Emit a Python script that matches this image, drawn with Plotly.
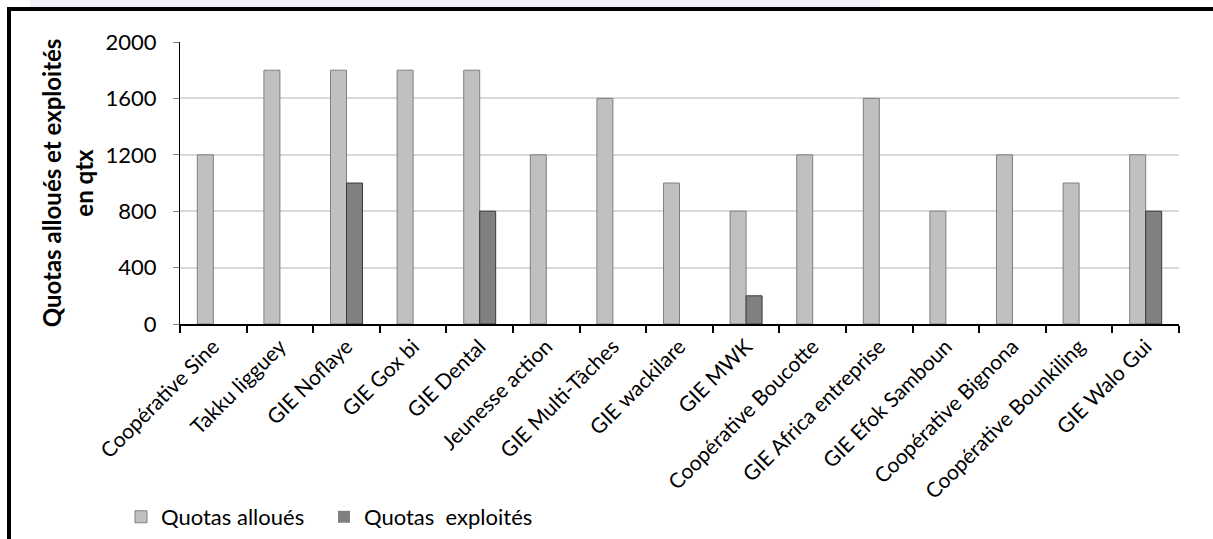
import plotly.graph_objects as go

categories = ["Coopérative Sine", "Takku ligguey", "GIE Noflaye", "GIE Gox bi", "GIE Dental",
              "Jeunesse action", "GIE Multi-Tâches", "GIE wackilare", "GIE MWK",
              "Coopérative Boucotte", "GIE Africa entreprise", "GIE Efok Samboun",
              "Coopérative Bignona", "Coopérative Bounkiling", "GIE Walo Gui"]
quotas_alloues = [1200, 1800, 1800, 1800, 1800, 1200, 1600, 1000, 800, 1200, 1600, 800, 1200, 1000, 1200]
quotas_exploites = [0, 0, 1000, 0, 800, 0, 0, 0, 200, 0, 0, 0, 0, 0, 800]
y_ticks = [0, 400, 800, 1200, 1600, 2000]

FONT = "Lato"

fig = go.Figure()
fig.add_trace(go.Bar(x=categories, y=quotas_alloues, name="Quotas alloués", legend="legend",
                     marker=dict(color="#c0c0c0",
                                 line=dict(color="#7f7f7f",
                                           width=[1 if v > 0 else 0 for v in quotas_alloues]))))
fig.add_trace(go.Bar(x=categories, y=quotas_exploites, name="Quotas  exploités", legend="legend2",
                     marker=dict(color="#808080",
                                 line=dict(color="#3a3a3a",
                                           width=[1 if v > 0 else 0 for v in quotas_exploites]))))

L, R, T, B = 180, 34, 42, 215
W, H = 1213, 539
pw, ph = W - L - R, H - T - B

def px_x(x):
    return (x - L) / pw

def px_y(y):
    return (H - B - y) / ph

shapes = [
    dict(type="rect", xref="paper", yref="paper", x0=px_x(30), x1=px_x(880), y0=px_y(7), y1=px_y(0),
         fillcolor="rgba(228,230,250,0.55)", line=dict(width=0), layer="below"),
    dict(type="line", xref="paper", yref="paper", x0=px_x(9), x1=px_x(W + 5), y0=px_y(9), y1=px_y(9),
         line=dict(color="black", width=4)),
    dict(type="line", xref="paper", yref="paper", x0=px_x(9), x1=px_x(9), y0=px_y(7), y1=px_y(H + 5),
         line=dict(color="black", width=4)),
]

legend_common = dict(orientation="h", y=px_y(517), xanchor="left", yanchor="middle",
                     font=dict(family=FONT, size=22, color="black"), bgcolor="rgba(0,0,0,0)")

fig.update_layout(
    width=W, height=H,
    margin=dict(l=L, r=R, t=T, b=B, pad=0, autoexpand=False),
    paper_bgcolor="white", plot_bgcolor="white",
    barmode="group", bargap=0.52, bargroupgap=0,
    font=dict(family=FONT, size=21, color="black"),
    shapes=shapes,
    showlegend=True,
    legend=dict(x=px_x(121), **legend_common),
    legend2=dict(x=px_x(324), **legend_common),
    xaxis=dict(
        type="category", tickangle=-45, ticks="outside", tickson="boundaries",
        ticklen=7, tickcolor="black", tickwidth=2, automargin=False,
        showline=True, linecolor="black", linewidth=2,
        showgrid=False, tickfont=dict(family=FONT, size=21, color="black"),
    ),
    yaxis=dict(
        range=[0, 2000], tickvals=y_ticks, ticktext=[str(v) for v in y_ticks],
        ticks="outside", ticklen=6, tickcolor="#808080", tickwidth=1,
        ticklabelstandoff=12, automargin=False,
        showline=True, linecolor="black", linewidth=1,
        showgrid=True, gridcolor="#d9d9d9", gridwidth=2,
        zeroline=False,
        tickfont=dict(family=FONT, size=22, color="black"),
        title=dict(text="<b>Quotas alloués et exploités<br>en qtx</b>",
                   font=dict(family=FONT, size=24, color="black"), standoff=5),
    ),
)

fig.write_html("out.html", config={"displayModeBar": False},
               post_script="document.body.style.margin='0';document.body.style.overflow='hidden';")
